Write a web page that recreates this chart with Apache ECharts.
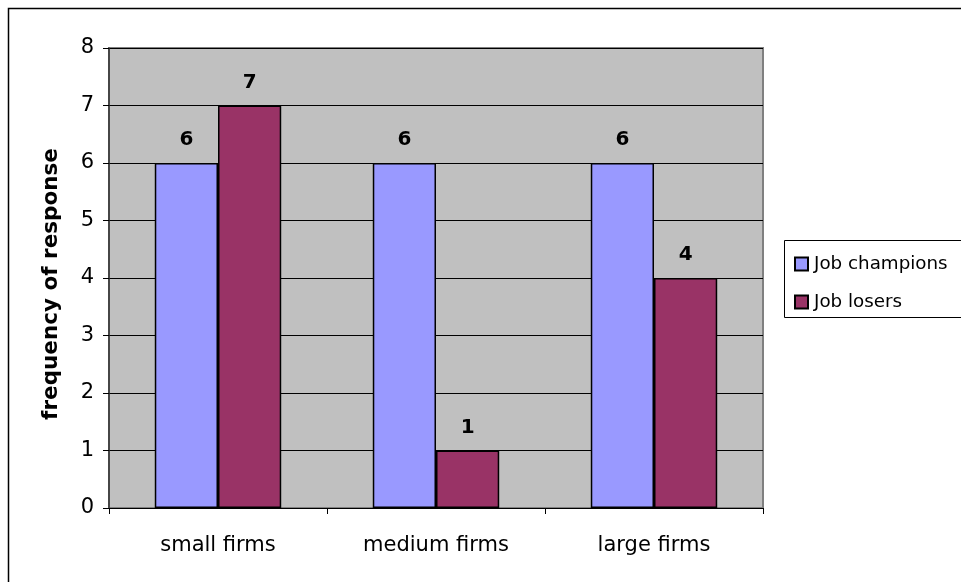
<!DOCTYPE html>
<html>
<head>
<meta charset="utf-8">
<script src="https://cdn.jsdelivr.net/npm/echarts@6/dist/echarts.min.js"></script>
<style>
  html, body { margin: 0; padding: 0; background: #fff; }
  #chart { width: 961px; height: 582px; }
</style>
</head>
<body>
<div id="chart"></div>
<script>
// Firm size groups and response counts
const categories = ['small firms', 'medium firms', 'large firms'];
const jobChampions = [6, 6, 6];
const jobLosers = [7, 1, 4];
const seriesNames = ['Job champions', 'Job losers'];
const yTicks = [0, 1, 2, 3, 4, 5, 6, 7, 8];

const FONT = '"DejaVu Sans", "Liberation Sans", Arial, sans-serif';

const chart = echarts.init(document.getElementById('chart'), null, { renderer: 'canvas' });

const labelStyle = {
  show: true,
  position: 'top',
  distance: 13,
  fontFamily: FONT,
  fontWeight: 'bold',
  fontSize: 20,
  color: '#000'
};

chart.setOption({
  animation: false,
  backgroundColor: '#fff',
  textStyle: { fontFamily: FONT },
  graphic: [
    {
      type: 'rect',
      shape: { x: 8.5, y: 8.5, width: 1000, height: 1000 },
      style: { fill: 'none', stroke: '#000', lineWidth: 1.5 },
      silent: true,
      z: -10
    },
    {
      type: 'rect',
      shape: { x: 784.5, y: 240.5, width: 300, height: 77 },
      style: { fill: '#fff', stroke: '#000', lineWidth: 1 },
      silent: true,
      z: 0
    }
  ],
  legend: {
    orient: 'vertical',
    left: 789,
    top: 250,
    itemWidth: 13,
    itemHeight: 13,
    itemGap: 20,
    icon: 'rect',
    data: seriesNames,
    textStyle: { fontFamily: FONT, fontSize: 18.3, color: '#000', padding: [0, 0, 0, 1] },
    z: 5
  },
  grid: {
    left: 109,
    top: 48,
    right: 198,
    bottom: 74,
    show: true,
    backgroundColor: '#c0c0c0',
    borderColor: '#808080',
    borderWidth: 2,
    containLabel: false
  },
  xAxis: {
    type: 'category',
    data: categories,
    axisLine: { show: true, lineStyle: { color: '#000', width: 1 } },
    axisTick: { show: true, alignWithLabel: false, length: 6, lineStyle: { color: '#000' } },
    axisLabel: { fontFamily: FONT, fontSize: 21, color: '#000', margin: 27 },
    splitLine: { show: false }
  },
  yAxis: {
    type: 'value',
    min: yTicks[0],
    max: yTicks[yTicks.length - 1],
    interval: 1,
    name: 'frequency of response',
    nameLocation: 'middle',
    nameGap: 47,
    nameTextStyle: { fontFamily: FONT, fontSize: 21.5, fontWeight: 'bold', color: '#000', padding: [0, 12, 0, 0] },
    axisLine: { show: true, lineStyle: { color: '#333', width: 1.5 } },
    axisTick: { show: true, length: 6, lineStyle: { color: '#000' } },
    axisLabel: { fontFamily: FONT, fontSize: 21, color: '#000', margin: 15 },
    splitLine: { show: true, lineStyle: { color: '#000', width: 1 } }
  },
  series: [
    {
      name: seriesNames[0],
      type: 'bar',
      data: jobChampions,
      barWidth: '29%',
      barGap: '0%',
      itemStyle: { color: '#9999ff', borderColor: '#000', borderWidth: 1.5 },
      label: labelStyle
    },
    {
      name: seriesNames[1],
      type: 'bar',
      data: jobLosers,
      barWidth: '29%',
      barGap: '0%',
      itemStyle: { color: '#993366', borderColor: '#000', borderWidth: 1.5 },
      label: labelStyle
    }
  ]
});
</script>
</body>
</html>
